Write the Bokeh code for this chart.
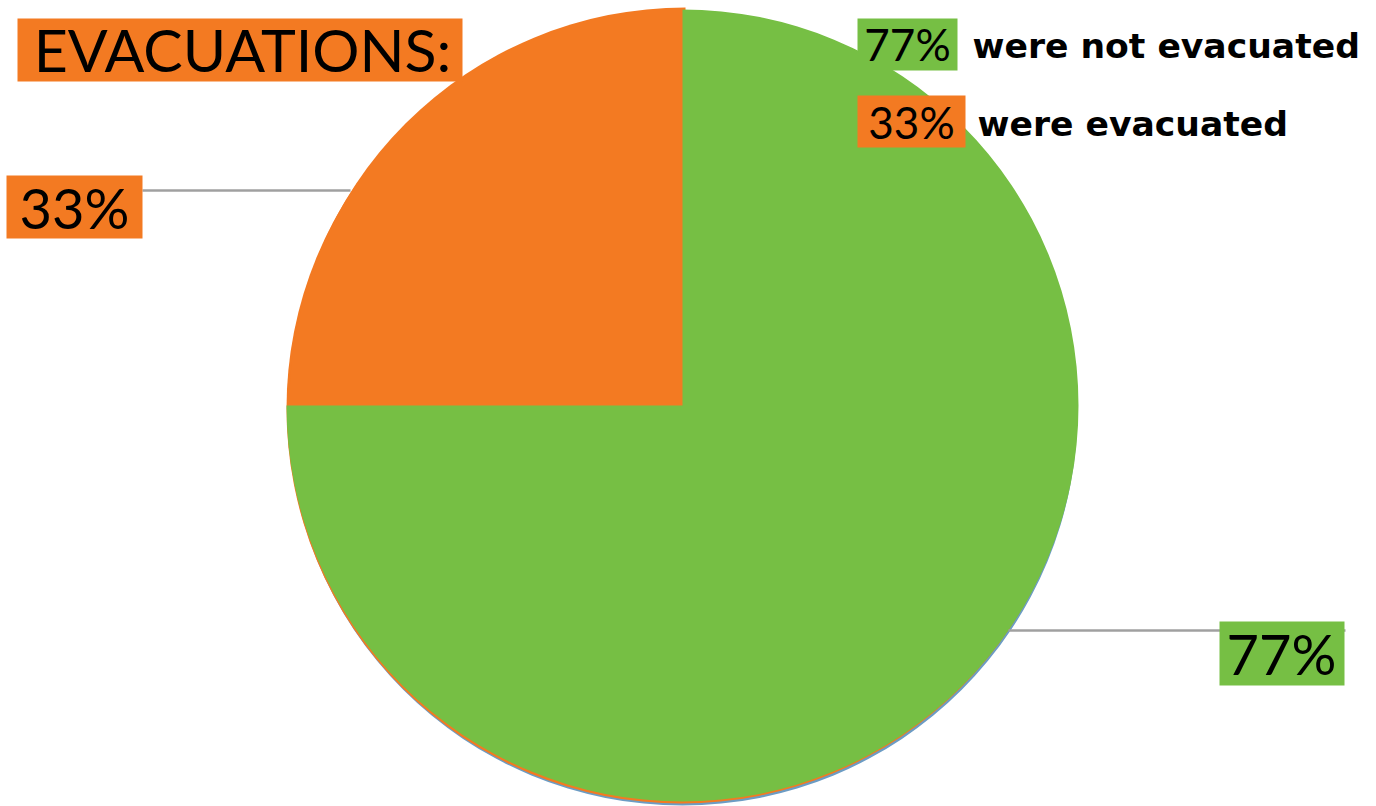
from bokeh.plotting import figure
from bokeh.models import Range1d
from bokeh.core.properties import value
from bokeh.embed import file_html
from bokeh.resources import INLINE
import math

# ---- data ----
categories = ["were not evacuated", "were evacuated"]
shares = [75, 25]                 # slice sizes as drawn in the picture
share_labels = ["77%", "33%"]     # labels printed on the chart
colors = ["#76BF44", "#F37A22"]
title_text = "EVACUATIONS:"

W, H = 1376, 806
def Y(py):
    return H - py

p = figure(width=W, height=H, x_range=Range1d(0, W), y_range=Range1d(0, H),
           output_backend="svg", toolbar_location=None, min_border=0)
p.axis.visible = False
p.grid.visible = False
p.outline_line_color = None
p.background_fill_color = "white"
p.border_fill_color = "white"

cx, cy, r = 682, 404, 396

# slice angles: start at 12 o'clock, go clockwise
total = sum(shares)
starts, ends = [], []
cum = 0
for s in shares:
    a_end = math.pi / 2 - 2 * math.pi * cum / total
    cum += s
    a_start = math.pi / 2 - 2 * math.pi * cum / total
    starts.append(a_start)
    ends.append(a_end)

# shadow rims below the pie
p.circle(x=[cx], y=[Y(cy + 6)], radius=r - 1, fill_color="#6C9CC4", line_color=None)
p.circle(x=[cx - 1], y=[Y(cy + 4)], radius=r - 1, fill_color=colors[1], line_color=None)

# orange slice
p.wedge(x=[cx + 3], y=[Y(cy - 1)], radius=r, start_angle=[starts[1]], end_angle=[ends[1]],
        fill_color=colors[1], line_color=None)
# green slice
p.wedge(x=[cx], y=[Y(cy + 1)], radius=r, start_angle=[starts[0]], end_angle=[ends[0]],
        fill_color=colors[0], line_color=None)

# leader lines
p.line(x=[142, 350], y=[Y(190), Y(190)], line_color="#A0A0A0", line_width=2.5)
p.line(x=[1008, 1345], y=[Y(630), Y(630)], line_color="#A0A0A0", line_width=2.5)

def box(x0, x1, y0, y1, color):
    p.quad(left=[x0], right=[x1], top=[Y(y0)], bottom=[Y(y1)], fill_color=color, line_color=None)

def txt(x, y, t, size, font="Lato", style="normal", align="left"):
    p.text(x=[x], y=[Y(y)], text=[t], text_font=value(font), text_font_size=f"{size}px",
           text_font_style=style, text_color="black", text_baseline="middle", text_align=align)

# title
box(17, 462, 18, 81, colors[1])
txt(242, 49, title_text, 59, align="center")

# pie labels
box(6, 142, 175, 238, colors[1])
txt(74, 207, share_labels[1], 56, align="center")
box(1219, 1344, 621, 685, colors[0])
txt(1281, 653, share_labels[0], 56, align="center")

# legend
box(857, 957, 18, 70, colors[0])
txt(907, 43, share_labels[0], 44, align="center")
txt(972, 45, categories[0], 34.6, font="DejaVu Sans", style="bold")
box(857, 965, 95, 147, colors[1])
txt(911, 121, share_labels[1], 44, align="center")
txt(977, 123, categories[1], 34.6, font="DejaVu Sans", style="bold")

open("out.html", "w").write(file_html(p, INLINE))
